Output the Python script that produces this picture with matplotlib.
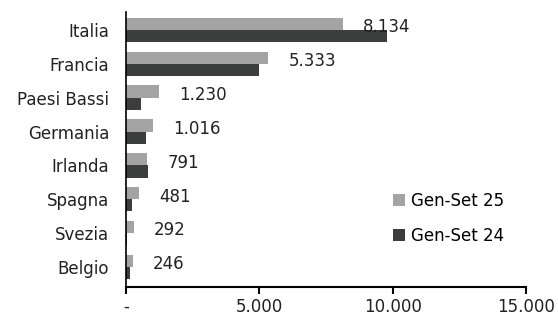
import matplotlib
matplotlib.use("Agg")
import matplotlib.pyplot as plt
import numpy as np

categories = ["Italia", "Francia", "Paesi Bassi", "Germania", "Irlanda", "Spagna", "Svezia", "Belgio"]
gen_set_25 = [8134, 5333, 1230, 1016, 791, 481, 292, 246]
gen_set_24 = [9780, 4990, 560, 750, 830, 230, 40, 150]
value_labels = ["8.134", "5.333", "1.230", "1.016", "791", "481", "292", "246"]
xticks = [0, 5000, 10000, 15000]
xtick_labels = ["-", "5.000", "10.000", "15.000"]

plt.rcParams['font.family'] = ['DejaVu Sans']

fig = plt.figure(figsize=(5.58, 3.16), dpi=100)
ax = fig.add_axes([126/558, 1-287/316, 400/558, 275/316])

y = np.arange(len(categories))
h = 0.36
ax.barh(y - h/2, gen_set_25, height=h, color="#a3a3a3", label="Gen-Set 25")
ax.barh(y + h/2, gen_set_24, height=h, color="#3c3d3d", label="Gen-Set 24")

fs = 12
for yi, v, lab in zip(y, gen_set_25, value_labels):
    ax.annotate(lab, xy=(v, yi), xytext=(14.5, 2), textcoords="offset points",
                ha="left", va="center", fontsize=fs, color="#222222")

ax.set_xlim(0, 15000)
ax.set_ylim(len(categories) - 1 + 0.59, -0.53)
ax.set_yticks(y)
ax.set_yticklabels(categories, fontsize=fs, color="#222222")
ax.tick_params(axis="y", length=0, pad=12)
ax.set_xticks(xticks)
ax.set_xticklabels(xtick_labels, fontsize=fs, color="#222222")
ax.tick_params(axis="x", direction="out", length=5, width=1.5, color="black", pad=3)

for s in ["top", "right"]:
    ax.spines[s].set_visible(False)
ax.spines["left"].set_linewidth(1.2)
ax.spines["bottom"].set_linewidth(1.5)

ax.legend(loc="center left", bbox_to_anchor=(0.63, 0.25), frameon=False,
          fontsize=fs, handlelength=0.7, handleheight=0.7, handletextpad=0.4,
          labelspacing=1.0)

fig.savefig("out.png", dpi=100)
